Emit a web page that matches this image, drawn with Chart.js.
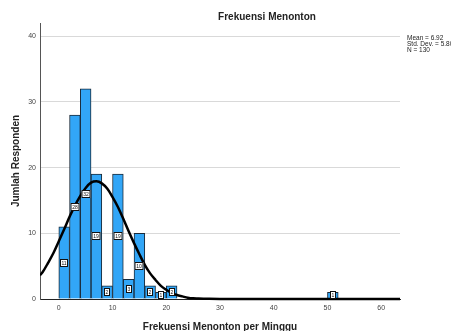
<!DOCTYPE html>
<html>
<head>
<meta charset="utf-8">
<script src="https://cdn.jsdelivr.net/npm/chart.js@4.4.1/dist/chart.umd.min.js"></script>
<style>
  html, body { margin: 0; padding: 0; background: #fff; }
  canvas { display: block; }
</style>
</head>
<body>
<canvas id="chart" width="451" height="331"></canvas>
<script>
// histogram bins (start of each bin, width 2) and counts
const binStart = [0, 2, 4, 6, 8, 10, 12, 14, 16, 18, 20, 50];
const binWidth = 2;
const counts = [11, 28, 32, 19, 2, 19, 3, 10, 2, 1, 2, 1];

// normal curve
const curveX = [-3.5, -3, -2, -1, 0, 1, 2, 3, 4, 5, 6, 7, 8, 9, 10, 11, 12, 13, 14, 15, 16, 17, 18, 19, 20, 21, 22, 23, 24, 25, 26, 28, 30, 63.5];
const curveY = [3.6, 4.1, 5.5, 7.0, 8.8, 10.6, 12.5, 14.2, 15.7, 16.9, 17.7, 17.9, 17.6, 16.8, 15.5, 14.0, 12.2, 10.3, 8.5, 6.8, 5.2, 3.9, 2.9, 2.0, 1.4, 0.9, 0.6, 0.4, 0.2, 0.1, 0.08, 0.02, 0, 0];

const xTicks = [0, 10, 20, 30, 40, 50, 60];
const yTicks = [0, 10, 20, 30, 40];

const chartTitle = 'Frekuensi Menonton';
const xTitle = 'Frekuensi Menonton per Minggu';
const yTitle = 'Jumlah Responden';
const stats = ['Mean = 6.92', 'Std. Dev. = 5.806', 'N = 130'];

const FONT = '"Liberation Sans", Arial, sans-serif';

const extras = {
  id: 'extras',
  afterDatasetsDraw(chart) {
    const ctx = chart.ctx;
    const meta = chart.getDatasetMeta(1);
    ctx.save();
    ctx.font = '5px ' + FONT;
    ctx.textAlign = 'center';
    ctx.textBaseline = 'middle';
    meta.data.forEach((bar, i) => {
      const txt = String(counts[i]);
      const w = Math.max(6, Math.round(ctx.measureText(txt).width) + 3);
      const h = 8;
      const cx = Math.round(bar.x);
      const cy = Math.round((bar.y + bar.base) / 2);
      ctx.fillStyle = '#fff';
      ctx.fillRect(cx - w / 2, cy - h / 2, w, h);
      ctx.strokeStyle = '#111';
      ctx.lineWidth = 1;
      ctx.strokeRect(cx - w / 2 + 0.5, cy - h / 2 + 0.5, w - 1, h - 1);
      ctx.fillStyle = '#111';
      ctx.fillText(txt, cx, cy + 0.5);
    });
    ctx.restore();
  },
  afterDraw(chart) {
    const ctx = chart.ctx;
    ctx.save();
    ctx.fillStyle = '#222';
    ctx.font = 'bold 10px ' + FONT;
    ctx.textAlign = 'center';
    ctx.textBaseline = 'middle';
    ctx.fillText(chartTitle, 267, 17);
    ctx.font = '6.5px ' + FONT;
    ctx.textAlign = 'left';
    stats.forEach((s, i) => ctx.fillText(s, 407, 38 + i * 6));
    ctx.restore();
  }
};

new Chart(document.getElementById('chart'), {
  type: 'bar',
  data: {
    datasets: [
      {
        type: 'line',
        data: curveX.map((x, i) => ({ x: x, y: curveY[i] })),
        borderColor: '#000',
        borderWidth: 2.5,
        pointRadius: 0,
        fill: false,
        cubicInterpolationMode: 'monotone',
        clip: { left: 0, top: 0, right: 0, bottom: 4 },
        order: 0
      },
      {
        type: 'bar',
        data: binStart.map((s, i) => ({ x: s + binWidth / 2, y: counts[i] })),
        backgroundColor: '#32a6f7',
        borderColor: '#1b2a38',
        borderWidth: 1,
        barPercentage: 1,
        categoryPercentage: 1,
        order: 1
      }
    ]
  },
  options: {
    responsive: false,
    animation: false,
    layout: { padding: { top: 23, right: 51, left: 0, bottom: 0 } },
    plugins: { legend: { display: false }, tooltip: { enabled: false } },
    scales: {
      x: {
        type: 'linear',
        offset: false,
        min: -3.5,
        max: 63.5,
        afterBuildTicks: s => { s.ticks = xTicks.map(v => ({ value: v })); },
        afterFit: s => { s.height = 32; },
        grid: { display: false, drawTicks: false },
        border: { color: '#222', width: 1 },
        ticks: { font: { size: 7, family: FONT }, color: '#444', padding: 5, maxRotation: 0, autoSkip: false },
        title: { display: true, text: xTitle, color: '#222', font: { size: 10, weight: 'bold', family: FONT }, padding: { top: 0, bottom: -2 } }
      },
      y: {
        min: 0,
        max: 42,
        afterBuildTicks: s => { s.ticks = yTicks.map(v => ({ value: v })); },
        afterFit: s => { s.width = 40; },
        grid: { drawTicks: false, color: c => (c.tick && c.tick.value === 0 ? 'rgba(0,0,0,0)' : '#d9d9d9') },
        border: { color: '#555', width: 1 },
        ticks: { font: { size: 7, family: FONT }, color: '#444', padding: 4 },
        title: { display: true, text: yTitle, color: '#222', font: { size: 10, weight: 'bold', family: FONT }, padding: { top: 10, bottom: 0 } }
      }
    }
  },
  plugins: [extras]
});
</script>
</body>
</html>
